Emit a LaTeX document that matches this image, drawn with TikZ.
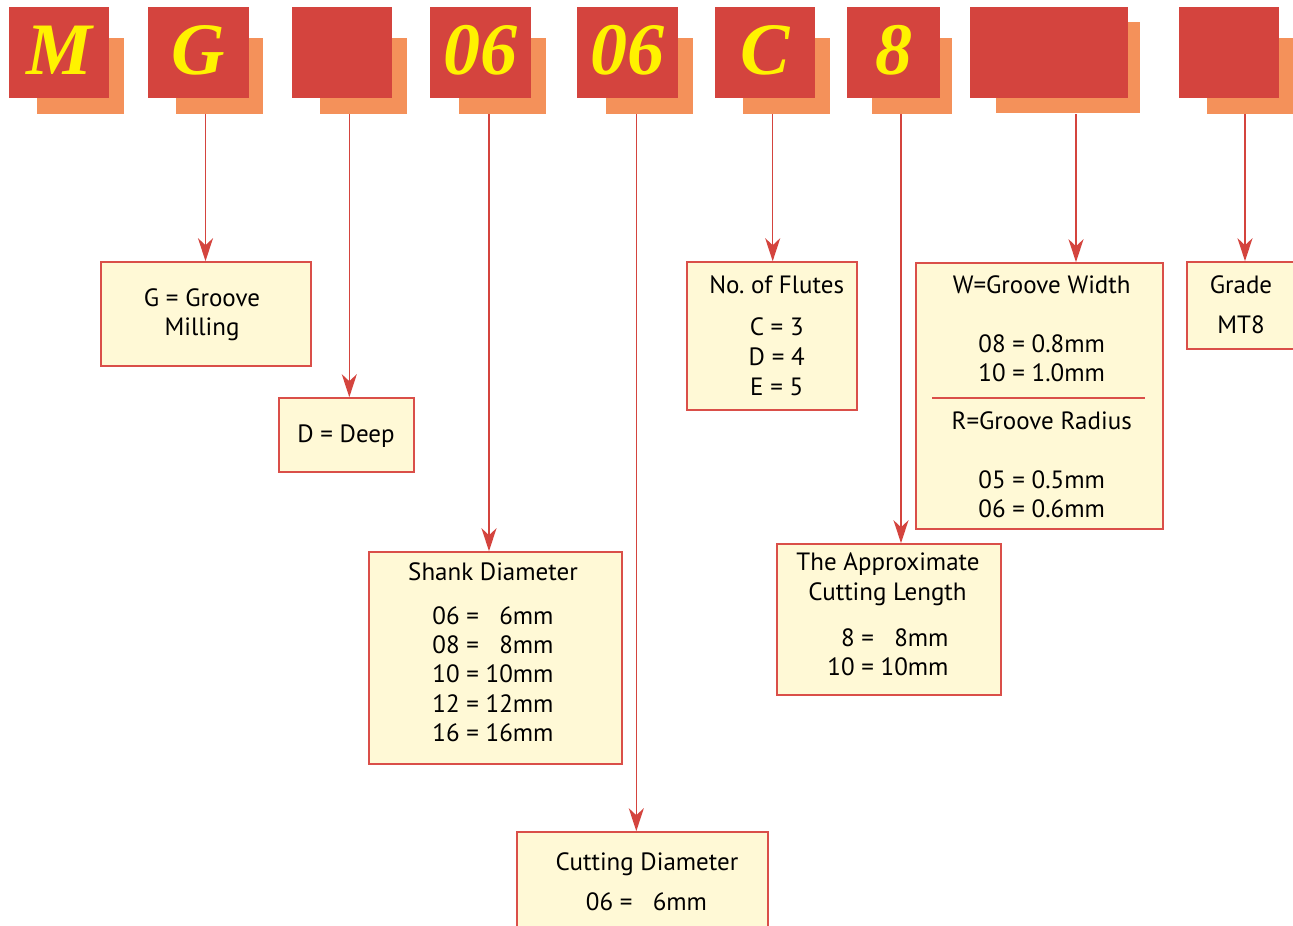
\documentclass[tikz,border=0pt]{standalone}
\usepackage{fontspec}
\setmainfont{PT Sans}
\newfontfamily\codefont{Liberation Serif}
\usetikzlibrary{arrows.meta}
\definecolor{codered}{HTML}{D4443E}
\definecolor{shadoworange}{HTML}{F4915A}
\definecolor{codeyellow}{HTML}{FFF200}
\definecolor{boxfill}{HTML}{FFF9D6}
\definecolor{boxline}{HTML}{DA4F49}
\frenchspacing
\begin{document}
\begin{tikzpicture}[x=1pt,y=-1pt,
  codebox/.style={fill=codered, draw=none, inner sep=0pt, outer sep=0pt},
  shadowbox/.style={fill=shadoworange, draw=none, inner sep=0pt, outer sep=0pt},
  codetext/.style={text=codeyellow, font=\codefont\bfseries\itshape\fontsize{74}{74}\selectfont, inner sep=0pt, anchor=base},
  infobox/.style={fill=boxfill, draw=boxline, line width=1.6pt, inner sep=0pt},
  lbl/.style={font=\fontsize{25}{29.3}\selectfont, inner sep=0pt, anchor=base, text=black},
  conn/.style={draw=codered, line width=1.5pt, -{Stealth[length=23pt,width=15pt,inset=7pt]}},
  sep/.style={draw=boxline, line width=2pt},
]
\clip (0,0) rectangle (1293,926);
\fill[white] (0,0) rectangle (1293,926);

% code boxes: shadows
\node[shadowbox, minimum width=87pt, minimum height=76pt] (sM) at (80.5,76) {};
\node[shadowbox, minimum width=87pt, minimum height=76pt] (sG) at (219.5,76) {};
\node[shadowbox, minimum width=87pt, minimum height=76pt] (sD) at (363.5,76) {};
\node[shadowbox, minimum width=87pt, minimum height=76pt] (sS) at (502.5,76) {};
\node[shadowbox, minimum width=87pt, minimum height=76pt] (sCD) at (649.5,76) {};
\node[shadowbox, minimum width=87pt, minimum height=76pt] (sC) at (786.5,76) {};
\node[shadowbox, minimum width=80pt, minimum height=76pt] (sL) at (912,76) {};
\node[shadowbox, minimum width=144pt, minimum height=91pt] (sW) at (1068,67.5) {};
\node[shadowbox, minimum width=93pt, minimum height=76pt] (sT) at (1253.5,76) {};
% code boxes: red
\node[codebox, minimum width=100pt, minimum height=91pt] (cM) at (59,52.5) {};
\node[codebox, minimum width=101pt, minimum height=91pt] (cG) at (198.5,52.5) {};
\node[codebox, minimum width=100pt, minimum height=91pt] (cD) at (342,52.5) {};
\node[codebox, minimum width=101pt, minimum height=91pt] (cS) at (480.5,52.5) {};
\node[codebox, minimum width=101pt, minimum height=91pt] (cCD) at (627.5,52.5) {};
\node[codebox, minimum width=100pt, minimum height=91pt] (cC) at (765,52.5) {};
\node[codebox, minimum width=93pt, minimum height=91pt] (cL) at (893.5,52.5) {};
\node[codebox, minimum width=158pt, minimum height=91pt] (cW) at (1049,52.5) {};
\node[codebox, minimum width=100pt, minimum height=91pt] (cT) at (1229,52.5) {};
% code letters
\node[codetext] (tM) at (59,74) {M};
\node[codetext] (tG) at (198.5,74) {G};
\node[codetext] (tS) at (480.5,74.5) {06};
\node[codetext] (tCD) at (627.5,74.5) {06};
\node[codetext] (tC) at (765,74) {C};
\node[codetext] (tL) at (893.5,74.5) {8};

% info boxes
\node[infobox, minimum width=210pt, minimum height=104pt] (bG) at (206,314) {};
\node[infobox, minimum width=135pt, minimum height=74pt] (bD) at (346.5,435) {};
\node[infobox, minimum width=253pt, minimum height=212pt] (bS) at (495.5,658) {};
\node[infobox, minimum width=251pt, minimum height=128pt] (bCD) at (642.5,896) {};
\node[infobox, minimum width=170pt, minimum height=148pt] (bC) at (772,336) {};
\node[infobox, minimum width=224pt, minimum height=151pt] (bL) at (889,619.5) {};
\node[infobox, minimum width=247pt, minimum height=266pt] (bW) at (1039.5,396) {};
\node[infobox, minimum width=133pt, minimum height=87pt] (bT) at (1253.5,305.5) {};
\draw[sep] (932,398) -- (1145,398);

% connectors
\coordinate (aG) at (205.5,114);
\coordinate (aD) at (349.3,114);
\coordinate (aS) at (489,114);
\coordinate (aCD) at (636.3,114);
\coordinate (aC) at (772.7,114);
\coordinate (aL) at (901,114);
\coordinate (aW) at (1076,114);
\coordinate (aT) at (1245,114);
\draw[conn] (aG) -- (aG |- bG.north);
\draw[conn] (aD) -- (aD |- bD.north);
\draw[conn] (aS) -- (aS |- bS.north);
\draw[conn] (aCD) -- (aCD |- bCD.north);
\draw[conn] (aC) -- (aC |- bC.north);
\draw[conn] (aL) -- (aL |- bL.north);
\draw[conn] (aW) -- (aW |- bW.north);
\draw[conn] (aT) -- (aT |- bT.north);

% labels
\node[lbl] (lG1) at (202,306) {G = Groove};
\node[lbl] (lG2) at (202,335) {Milling};
\node[lbl] (lD1) at (346,442.7) {D = Deep};
\node[lbl] (lC1) at (776.7,293) {No. of Flutes};
\node[lbl] (lC2) at (776.7,335.7) {C = 3};
\node[lbl] (lC3) at (776.7,365.3) {D = 4};
\node[lbl] (lC4) at (776.7,395.3) {E = 5};
\node[lbl] (lW1) at (1041.7,293.3) {W=Groove Width};
\node[lbl] (lW2) at (1041.7,352.7) {08 = 0.8mm};
\node[lbl] (lW3) at (1041.7,381.7) {10 = 1.0mm};
\node[lbl] (lW4) at (1041.7,429.3) {R=Groove Radius};
\node[lbl] (lW5) at (1041.7,488) {05 = 0.5mm};
\node[lbl] (lW6) at (1041.7,517.3) {06 = 0.6mm};
\node[lbl] (lT1) at (1241,293.3) {Grade};
\node[lbl] (lT2) at (1241,333.3) {MT8};
\node[lbl] (lS1) at (493,580) {Shank Diameter};
\node[lbl] (lS2) at (493,624.3) {\begin{tabular}[t]{@{}r@{\ =\ }r@{}}06&6mm\\08&8mm\\10&10mm\\12&12mm\\16&16mm\end{tabular}};
\node[lbl] (lL1) at (888,570.7) {The Approximate};
\node[lbl] (lL2) at (887.5,600) {Cutting Length};
\node[lbl] (lL3) at (888,646) {\begin{tabular}[t]{@{}r@{\ =\ }r@{}}8&8mm\\10&10mm\end{tabular}};
\node[lbl] (lCD1) at (647,870.7) {Cutting Diameter};
\node[lbl] (lCD2) at (646.5,910) {\begin{tabular}[t]{@{}r@{\ =\ }r@{}}06&\phantom{1}6mm\end{tabular}};
\end{tikzpicture}
\end{document}
